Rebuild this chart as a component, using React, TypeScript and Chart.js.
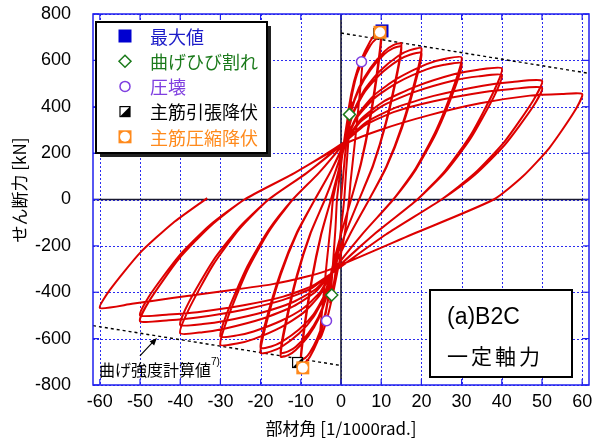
import { useEffect, useRef } from 'react';
import { Chart, registerables } from 'chart.js';
Chart.register(...registerables);

type P = [number, number];

const xTicks = [-60, -50, -40, -30, -20, -10, 0, 10, 20, 30, 40, 50, 60];
const yTicks = [-800, -600, -400, -200, 0, 200, 400, 600, 800];

const cycInit: P[] = [[0,0],[1,190],[2.1,367],[2.6,420],[2.2,330],[1.3,130],[0.8,0],[-0.3,-170],[-1.5,-330],[-2.3,-412],[-2.7,-445],[-2.3,-350],[-1.4,-130],[-1,0]];
const cyc5: P[] = [[-0.2,120],[1,280],[2.5,430],[3.8,530],[5.1,594],[5.4,605],[4.8,480],[3.6,270],[2.4,80],[2,0],[0.8,-160],[-1,-320],[-2.3,-430],[-3.6,-523],[-4.8,-585],[-5.3,-600],[-4.7,-480],[-3.6,-280],[-2.4,-80],[-2,0]];
const cyc10a: P[] = [[-0.5,125],[1,250],[1.9,392],[3.25,510],[5.05,604],[7.3,684],[8.65,713],[10,722],[9.33,599],[7.23,354],[4.98,159],[2.5,0],[0,-150],[-2.5,-320],[-3.25,-437],[-4.38,-535],[-5.88,-613],[-7.75,-679],[-8.88,-702],[-10,-710],[-9.33,-589],[-7.23,-348],[-4.98,-156],[-2.5,0]];
const cyc10b: P[] = [[-0.75,115],[1,250],[1.9,385],[3.25,498],[5.05,588],[7.3,664],[8.65,691],[10,700],[9.33,581],[7.23,343],[4.98,154],[2.5,0],[0,-150],[-2.5,-320],[-3.25,-431],[-4.38,-524],[-5.88,-598],[-7.75,-660],[-8.88,-683],[-10,-690],[-9.33,-573],[-7.23,-338],[-4.98,-152],[-2.5,0]];
const cyc15a: P[] = [[-0.75,115],[1,250],[2.4,377],[4.5,483],[7.3,567],[10.8,639],[12.9,665],[15,673],[14.06,559],[11.12,330],[7.97,148],[4.5,0],[1,-150],[-2.5,-320],[-3.75,-427],[-5.63,-517],[-8.13,-589],[-11.25,-649],[-13.13,-671],[-15,-678],[-14.01,-563],[-10.93,-332],[-7.63,-149],[-4,0]];
const cyc15b: P[] = [[-1.5,115],[1,250],[2.4,373],[4.5,476],[7.3,558],[10.8,627],[12.9,652],[15,660],[14.06,548],[11.12,323],[7.97,145],[4.5,0],[1,-150],[-2.5,-320],[-3.75,-423],[-5.63,-508],[-8.13,-577],[-11.25,-635],[-13.13,-655],[-15,-662],[-14.01,-549],[-10.93,-324],[-7.63,-146],[-4,0]];
const cyc20a: P[] = [[-1.5,115],[1,250],[2.9,371],[5.75,471],[9.55,552],[14.3,620],[17.15,644],[20,652],[18.83,541],[15.19,319],[11.29,143],[7,0],[2.25,-150],[-2.5,-320],[-4.25,-423],[-6.88,-508],[-10.38,-577],[-14.75,-635],[-17.38,-655],[-20,-662],[-18.79,-549],[-15,-324],[-10.95,-146],[-6.5,0]];
const cyc20b: P[] = [[-2.75,115],[1,250],[2.9,365],[5.75,460],[9.55,537],[14.3,601],[17.15,624],[20,632],[18.83,525],[15.19,310],[11.29,139],[7,0],[2.25,-150],[-2.5,-320],[-4.25,-416],[-6.88,-496],[-10.38,-560],[-14.75,-614],[-17.38,-634],[-20,-640],[-18.79,-531],[-15,-314],[-10.95,-141],[-6.5,0]];
const cyc30a: P[] = [[-2.75,115],[1,250],[3.9,359],[8.25,450],[14.05,522],[21.3,584],[25.65,606],[30,613],[28.47,509],[23.71,300],[18.61,135],[13,0],[5.25,-150],[-2.5,-320],[-5.25,-412],[-9.38,-489],[-14.88,-550],[-21.75,-602],[-25.88,-621],[-30,-627],[-28.38,-520],[-23.34,-307],[-17.94,-138],[-12,0]];
const cyc30b: P[] = [[-5.5,115],[1,250],[3.9,351],[8.25,436],[14.05,504],[21.3,561],[25.65,581],[30,588],[28.47,488],[23.71,288],[18.61,129],[13,0],[5.25,-150],[-2.5,-320],[-5.25,-401],[-9.38,-469],[-14.88,-523],[-21.75,-569],[-25.88,-586],[-30,-591],[-28.38,-491],[-23.34,-290],[-17.94,-130],[-12,0]];
const cyc40a: P[] = [[-5.5,115],[1,250],[4.9,345],[10.75,424],[18.55,487],[28.3,541],[34.15,560],[40,566],[38.11,470],[32.23,277],[25.93,125],[19,0],[8.25,-150],[-2.5,-320],[-6.25,-397],[-11.88,-461],[-19.38,-513],[-28.75,-556],[-34.38,-572],[-40,-577],[-38.02,-479],[-31.86,-283],[-25.26,-127],[-18,0]];
const cyc40b: P[] = [[-8.5,115],[1,250],[4.9,336],[10.75,408],[18.55,465],[28.3,514],[34.15,531],[40,537],[38.11,446],[32.23,263],[25.93,118],[19,0],[8.25,-150],[-2.5,-320],[-6.25,-386],[-11.88,-442],[-19.38,-486],[-28.75,-523],[-34.38,-537],[-40,-541],[-38.02,-449],[-31.86,-265],[-25.26,-119],[-18,0]];
const cyc50a: P[] = [[-8.5,115],[1,250],[5.9,329],[13.25,394],[23.05,447],[35.3,491],[42.65,507],[50,512],[47.75,425],[40.75,251],[33.25,113],[25,0],[11.25,-150],[-2.5,-320],[-7.25,-382],[-14.38,-433],[-23.88,-474],[-35.75,-509],[-42.88,-521],[-50,-525],[-47.66,-436],[-40.38,-257],[-32.58,-116],[-24,0]];
const cyc50b: P[] = [[-11.5,115],[1,250],[5.9,320],[13.25,378],[23.05,424],[35.3,463],[42.65,477],[50,482],[47.75,400],[40.75,236],[33.25,106],[25,0],[11.25,-150],[-2.5,-320],[-7.25,-374],[-14.38,-419],[-23.88,-455],[-35.75,-486],[-42.88,-496],[-50,-500],[-47.66,-415],[-40.38,-245],[-32.58,-110],[-24,0]];
const cyc60: P[] = [[-11.5,115],[1,240],[9.7,300],[22,364],[34.6,415],[47,448],[55,455],[60,455],[58.02,378],[51.86,223],[45.26,100],[38,0],[17.75,-150],[-2.5,-300],[-8,-330],[-17,-365],[-29,-395],[-42,-425],[-52,-450],[-60,-468],[-57.5,-390],[-50,-230],[-41.8,-101],[-33.3,6]];

const hysteresis: P[] = [
  ...cycInit, ...cyc5, ...cyc10a, ...cyc10b, ...cyc15a, ...cyc15b, ...cyc20a, ...cyc20b,
  ...cyc30a, ...cyc30b, ...cyc40a, ...cyc40b, ...cyc50a, ...cyc50b, ...cyc60,
];

const calcPos: P[] = [[0, 718], [61.7, 544]];
const calcNeg: P[] = [[-61.7, -544], [0, -716]];

const maxValue: P[] = [[10.2, 727]];
const flexCrack: P[] = [[2.1, 367], [-2.3, -412]];
const crush: P[] = [[5.1, 594], [-3.6, -523]];
const tensYield: P[] = [[9.4, 716], [-10.8, -703]];
const compYield: P[] = [[9.7, 721], [-9.5, -726]];
const arrowTarget: P = [-45.8, -597];

const legendItems = [
  { label: '最大値', color: '#1c1cc8', kind: 'max' },
  { label: '曲げひび割れ', color: '#1b7a1b', kind: 'crack' },
  { label: '圧壊', color: '#7f3fe0', kind: 'crush' },
  { label: '主筋引張降伏', color: '#000000', kind: 'tens' },
  { label: '主筋圧縮降伏', color: '#ff8a1c', kind: 'comp' },
];

const CJK = '"Noto Sans CJK JP", "Noto Sans", sans-serif';
const LAT = '"Liberation Sans", Arial, sans-serif';

function drawMarker(ctx: CanvasRenderingContext2D, kind: string, cx: number, cy: number) {
  ctx.save();
  ctx.setLineDash([]);
  if (kind === 'max') {
    ctx.fillStyle = '#0000d0';
    ctx.fillRect(cx - 6.5, cy - 6.5, 13, 13);
  } else if (kind === 'crack') {
    ctx.beginPath();
    ctx.moveTo(cx, cy - 6); ctx.lineTo(cx + 6, cy); ctx.lineTo(cx, cy + 6); ctx.lineTo(cx - 6, cy); ctx.closePath();
    ctx.fillStyle = '#fff'; ctx.fill();
    ctx.strokeStyle = '#1b7a1b'; ctx.lineWidth = 1.5; ctx.stroke();
  } else if (kind === 'crush') {
    ctx.beginPath(); ctx.arc(cx, cy, 5, 0, Math.PI * 2);
    ctx.fillStyle = '#fff'; ctx.fill();
    ctx.strokeStyle = '#7f3fe0'; ctx.lineWidth = 1.5; ctx.stroke();
  } else if (kind === 'tens') {
    ctx.fillStyle = '#fff'; ctx.fillRect(cx - 5, cy - 5, 10, 10);
    ctx.beginPath(); ctx.moveTo(cx + 5, cy - 5); ctx.lineTo(cx + 5, cy + 5); ctx.lineTo(cx - 5, cy + 5); ctx.closePath();
    ctx.fillStyle = '#000'; ctx.fill();
    ctx.strokeStyle = '#000'; ctx.lineWidth = 1.2; ctx.strokeRect(cx - 5, cy - 5, 10, 10);
  } else if (kind === 'comp') {
    ctx.fillStyle = '#ff8a1c'; ctx.fillRect(cx - 6.5, cy - 6.5, 13, 13);
    ctx.beginPath(); ctx.arc(cx, cy, 5, 0, Math.PI * 2);
    ctx.fillStyle = '#fff'; ctx.fill();
  }
  ctx.restore();
}

const overlay = {
  id: 'overlay',
  beforeDatasetsDraw(chart: any) {
    const { ctx, chartArea: a, scales } = chart;
    const x = scales.x, y = scales.y;
    ctx.save();
    ctx.strokeStyle = '#2b2bf0';
    ctx.lineWidth = 1;
    ctx.setLineDash([2, 2]);
    for (const v of xTicks) {
      const px = Math.round(x.getPixelForValue(v)) + 0.5;
      ctx.beginPath(); ctx.moveTo(px, a.top); ctx.lineTo(px, a.bottom); ctx.stroke();
    }
    for (const v of yTicks) {
      const py = Math.round(y.getPixelForValue(v)) + 0.5;
      ctx.beginPath(); ctx.moveTo(a.left, py); ctx.lineTo(a.right, py); ctx.stroke();
    }
    ctx.setLineDash([]);
    ctx.strokeStyle = '#1a1a30';
    ctx.lineWidth = 1.6;
    const x0 = x.getPixelForValue(0), y0 = y.getPixelForValue(0);
    ctx.beginPath(); ctx.moveTo(x0, a.top); ctx.lineTo(x0, a.bottom); ctx.stroke();
    ctx.beginPath(); ctx.moveTo(a.left, y0); ctx.lineTo(a.right, y0); ctx.stroke();
    ctx.restore();
  },
  afterDatasetsDraw(chart: any) {
    const { ctx, chartArea: a, scales } = chart;
    const x = scales.x, y = scales.y;
    ctx.save();
    // frame
    ctx.strokeStyle = '#2020ee';
    ctx.lineWidth = 1.5;
    ctx.strokeRect(a.left, a.top, a.right - a.left, a.bottom - a.top);
    ctx.lineWidth = 1.2;
    for (const v of xTicks) {
      const px = x.getPixelForValue(v);
      ctx.beginPath(); ctx.moveTo(px, a.bottom); ctx.lineTo(px, a.bottom - 6); ctx.stroke();
      ctx.beginPath(); ctx.moveTo(px, a.top); ctx.lineTo(px, a.top + 6); ctx.stroke();
    }
    for (const v of yTicks) {
      const py = y.getPixelForValue(v);
      ctx.beginPath(); ctx.moveTo(a.left, py); ctx.lineTo(a.left + 6, py); ctx.stroke();
      ctx.beginPath(); ctx.moveTo(a.right, py); ctx.lineTo(a.right - 6, py); ctx.stroke();
    }
    // markers
    const put = (arr: P[], kind: string) => arr.forEach(([vx, vy]) => drawMarker(ctx, kind, x.getPixelForValue(vx), y.getPixelForValue(vy)));
    put(tensYield, 'tens');
    put(maxValue, 'max');
    put(compYield, 'comp');
    put(flexCrack, 'crack');
    put(crush, 'crush');

    // legend box
    const lx = 96, ly = 22, lw = 171, lh = 131;
    ctx.fillStyle = '#222';
    ctx.fillRect(lx + 4, ly + 4, lw, lh);
    ctx.fillStyle = '#fff';
    ctx.fillRect(lx, ly, lw, lh);
    ctx.strokeStyle = '#000'; ctx.lineWidth = 2;
    ctx.strokeRect(lx, ly, lw, lh);
    ctx.font = `18px ${CJK}`;
    ctx.textBaseline = 'middle';
    ctx.textAlign = 'left';
    legendItems.forEach((it, i) => {
      const cy = 36 + i * 25.2;
      drawMarker(ctx, it.kind, 125, cy);
      ctx.fillStyle = it.color;
      ctx.fillText(it.label, 150, cy + 1);
    });

    // text box
    const bx = 430, by = 290, bw = 142, bh = 87;
    ctx.fillStyle = '#fff'; ctx.fillRect(bx, by, bw, bh);
    ctx.strokeStyle = '#000'; ctx.lineWidth = 2; ctx.strokeRect(bx, by, bw, bh);
    ctx.fillStyle = '#000';
    ctx.font = `23px ${LAT}`;
    ctx.fillText('(a)B2C', 447, 318);
    ctx.font = `21px ${CJK}`;
    (ctx as any).letterSpacing = '3px';
    ctx.fillText('一定軸力', 447, 356);
    (ctx as any).letterSpacing = '0px';

    // annotation
    const tx = x.getPixelForValue(arrowTarget[0]);
    const ty = y.getPixelForValue(arrowTarget[1]);
    ctx.strokeStyle = '#000'; ctx.lineWidth = 1.2;
    ctx.beginPath(); ctx.moveTo(tx - 17, ty + 18); ctx.lineTo(tx - 2, ty + 2); ctx.stroke();
    const ang = Math.atan2(-16, 15);
    ctx.beginPath();
    ctx.moveTo(tx, ty);
    ctx.lineTo(tx - 8 * Math.cos(ang - 0.4), ty - 8 * Math.sin(ang - 0.4));
    ctx.lineTo(tx - 8 * Math.cos(ang + 0.4), ty - 8 * Math.sin(ang + 0.4));
    ctx.closePath(); ctx.fillStyle = '#000'; ctx.fill();
    ctx.font = `16px ${CJK}`;
    ctx.fillText('曲げ強度計算値', 99, 370);
    ctx.font = `10px ${LAT}`;
    ctx.fillText('7)', 211, 362);
    ctx.restore();
  },
  afterDraw(chart: any) {
    const { ctx } = chart;
    ctx.save();
    ctx.fillStyle = '#000';
    ctx.textBaseline = 'middle';
    ctx.textAlign = 'center';
    ctx.font = `17px ${CJK}`;
    ctx.fillText('部材角 [1/1000rad.]', 341, 429);
    ctx.translate(20, 190);
    ctx.rotate(-Math.PI / 2);
    ctx.fillText('せん断力 [kN]', 0, 0);
    ctx.restore();
  },
};

export default function App() {
  const ref = useRef<HTMLCanvasElement>(null);
  useEffect(() => {
    document.body.style.margin = '0';
    const canvas = ref.current!;
    const tickFont = { family: LAT, size: 18 };
    const chart = new Chart(canvas, {
      type: 'scatter',
      data: {
        datasets: [
          {
            data: hysteresis.map(([vx, vy]) => ({ x: vx, y: vy })),
            showLine: true, borderColor: '#dd0000', borderWidth: 2, pointRadius: 0, tension: 0.2,
          } as any,
          {
            data: calcPos.map(([vx, vy]) => ({ x: vx, y: vy })),
            showLine: true, borderColor: '#000', borderWidth: 1.4, borderDash: [3, 3], pointRadius: 0,
          },
          {
            data: calcNeg.map(([vx, vy]) => ({ x: vx, y: vy })),
            showLine: true, borderColor: '#000', borderWidth: 1.4, borderDash: [3, 3], pointRadius: 0,
          },
        ],
      },
      options: {
        animation: false,
        responsive: false,
        maintainAspectRatio: false,
        layout: { padding: { left: 0, right: 11, top: 14, bottom: 0 } },
        plugins: { legend: { display: false }, tooltip: { enabled: false } },
        scales: {
          x: {
            type: 'linear', min: -61.7, max: 61.7,
            afterBuildTicks: (s: any) => { s.ticks = xTicks.map((v) => ({ value: v })); },
            afterFit: (s: any) => { s.height = 56; s.paddingLeft = 0; s.paddingRight = 0; s.paddingTop = 0; s.paddingBottom = 0; },
            grid: { display: false },
            border: { display: false },
            ticks: { font: tickFont, color: '#000', padding: -2, maxRotation: 0, autoSkip: false },
          },
          y: {
            type: 'linear', min: -800, max: 800,
            afterBuildTicks: (s: any) => { s.ticks = yTicks.map((v) => ({ value: v })); },
            afterFit: (s: any) => { s.width = 93; s.paddingTop = 0; s.paddingBottom = 0; s.paddingLeft = 0; s.paddingRight = 0; },
            grid: { display: false },
            border: { display: false },
            ticks: { font: tickFont, color: '#000', padding: 14, autoSkip: false },
          },
        },
      },
      plugins: [overlay],
    });
    return () => chart.destroy();
  }, []);
  return <canvas ref={ref} width={600} height={441} style={{ display: 'block' }} />;
}
